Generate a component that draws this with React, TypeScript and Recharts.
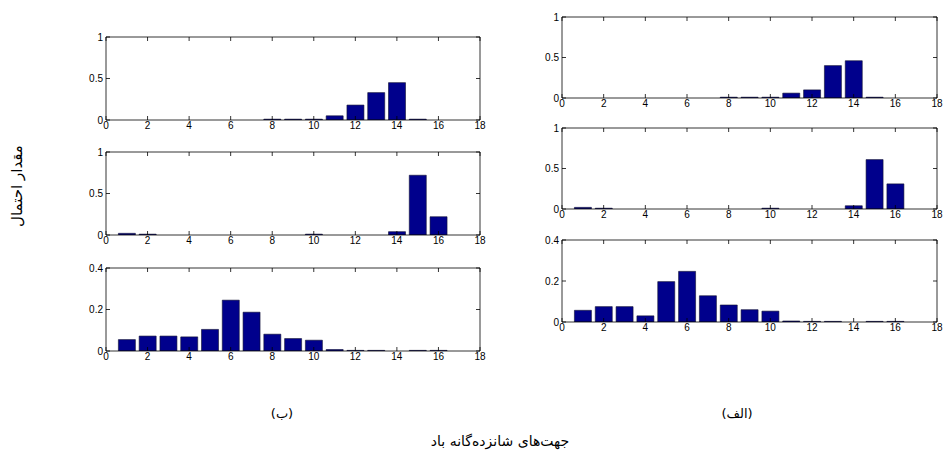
import { Bar, BarChart, XAxis, YAxis } from 'recharts';

// 16 wind directions
const DIRS = [1, 2, 3, 4, 5, 6, 7, 8, 9, 10, 11, 12, 13, 14, 15, 16];
const X_TICKS = [0, 2, 4, 6, 8, 10, 12, 14, 16, 18];
const Y_TICKS_1 = [0, 0.5, 1];
const Y_TICKS_04 = [0, 0.2, 0.4];

// column (ب)
const B1 = [0, 0, 0, 0, 0, 0, 0, 0.01, 0.01, 0.01, 0.05, 0.18, 0.33, 0.45, 0.01, 0];
const B2 = [0.02, 0.01, 0, 0, 0, 0, 0, 0, 0, 0.01, 0, 0, 0, 0.04, 0.72, 0.22];
const B3 = [0.055, 0.072, 0.072, 0.068, 0.104, 0.245, 0.187, 0.081, 0.06, 0.052, 0.007, 0.003, 0.003, 0, 0.003, 0.003];

// column (الف)
const A1 = [0, 0, 0, 0, 0, 0, 0, 0.01, 0.01, 0.01, 0.06, 0.1, 0.4, 0.46, 0.01, 0];
const A2 = [0.02, 0.01, 0, 0, 0, 0, 0, 0, 0, 0.01, 0, 0, 0, 0.04, 0.61, 0.31];
const A3 = [0.057, 0.075, 0.075, 0.03, 0.197, 0.247, 0.128, 0.083, 0.06, 0.053, 0.005, 0.003, 0.003, 0, 0.003, 0.003];

const TEXT = {
  yTitle: 'مقدار احتمال',
  xTitle: 'جهت‌های شانزده‌گانه باد',
  left: '(ب)',
  right: '(الف)',
};

const NUM_FONT = 'Liberation Sans, Arial, sans-serif';
const FA_FONT = 'DejaVu Sans, sans-serif';
const BAR_FILL = '#00008c';

const toRows = (values: number[]) => DIRS.map((d, i) => ({ dir: d, p: values[i] }));

const BottomTick = (props: any) => {
  const { x, y, payload } = props;
  return (
    <g>
      <line x1={x} x2={x} y1={y} y2={y - 4} stroke="#000" strokeWidth={0.8} />
      <text x={x} y={y + 9} textAnchor="middle" fontSize={10} fontFamily={NUM_FONT} fill="#000">
        {payload.value}
      </text>
    </g>
  );
};

const TopTick = (props: any) => {
  const { x, y } = props;
  return <line x1={x} x2={x} y1={y} y2={y + 4} stroke="#000" strokeWidth={0.8} />;
};

const LeftTick = (props: any) => {
  const { x, y, payload } = props;
  return (
    <g>
      <line x1={x} x2={x + 4} y1={y} y2={y} stroke="#000" strokeWidth={0.8} />
      <text x={x - 3} y={y + 3.5} textAnchor="end" fontSize={10} fontFamily={NUM_FONT} fill="#000">
        {payload.value}
      </text>
    </g>
  );
};

const RightTick = (props: any) => {
  const { x, y } = props;
  return <line x1={x} x2={x - 4} y1={y} y2={y} stroke="#000" strokeWidth={0.8} />;
};

interface PanelProps {
  values: number[];
  yMax: number;
  yTicks: number[];
  plotLeft: number;
  plotTop: number;
  plotW: number;
  plotH: number;
}

function Panel({ values, yMax, yTicks, plotLeft, plotTop, plotW, plotH }: PanelProps) {
  const width = 24 + plotW + 7;
  const height = 6 + plotH + 14;
  return (
    <div style={{ position: 'absolute', left: plotLeft - 24, top: plotTop - 6 }}>
      <BarChart width={width} height={height} data={toRows(values)} margin={{ top: 5, right: 6, bottom: 0, left: 0 }}>
        <XAxis
          dataKey="dir"
          type="number"
          domain={[0, 18]}
          ticks={X_TICKS}
          interval={0}
          allowDataOverflow
          height={14}
          tickSize={0}
          tickMargin={0}
          tickLine={false}
          axisLine={{ stroke: '#000', strokeWidth: 0.8 }}
          tick={<BottomTick />}
        />
        <XAxis
          xAxisId="top"
          orientation="top"
          dataKey="dir"
          type="number"
          domain={[0, 18]}
          ticks={X_TICKS}
          interval={0}
          allowDataOverflow
          height={1}
          tickSize={0}
          tickMargin={0}
          tickLine={false}
          axisLine={{ stroke: '#000', strokeWidth: 0.8 }}
          tick={<TopTick />}
        />
        <YAxis
          type="number"
          domain={[0, yMax]}
          ticks={yTicks}
          interval={0}
          allowDataOverflow
          width={24}
          tickSize={0}
          tickMargin={0}
          tickLine={false}
          axisLine={{ stroke: '#000', strokeWidth: 0.8 }}
          tick={<LeftTick />}
        />
        <YAxis
          yAxisId="right"
          orientation="right"
          type="number"
          domain={[0, yMax]}
          ticks={yTicks}
          interval={0}
          allowDataOverflow
          width={1}
          tickSize={0}
          tickMargin={0}
          tickLine={false}
          axisLine={{ stroke: '#000', strokeWidth: 0.8 }}
          tick={<RightTick />}
        />
        <Bar dataKey="p" fill={BAR_FILL} stroke="#101030" strokeWidth={0.6} barSize={17} isAnimationActive={false} />
      </BarChart>
    </div>
  );
}

export default function App() {
  return (
    <div style={{ position: 'absolute', left: 0, top: 0, width: 943, height: 456, background: '#fff', overflow: 'hidden' }}>
      <Panel values={B1} yMax={1} yTicks={Y_TICKS_1} plotLeft={106} plotTop={37} plotW={374} plotH={83} />
      <Panel values={B2} yMax={1} yTicks={Y_TICKS_1} plotLeft={106} plotTop={152} plotW={374} plotH={83} />
      <Panel values={B3} yMax={0.4} yTicks={Y_TICKS_04} plotLeft={106} plotTop={268} plotW={374} plotH={83} />

      <Panel values={A1} yMax={1} yTicks={Y_TICKS_1} plotLeft={562} plotTop={17} plotW={375} plotH={81} />
      <Panel values={A2} yMax={1} yTicks={Y_TICKS_1} plotLeft={562} plotTop={128} plotW={375} plotH={81} />
      <Panel values={A3} yMax={0.4} yTicks={Y_TICKS_04} plotLeft={562} plotTop={240} plotW={375} plotH={82} />

      <div
        style={{
          position: 'absolute',
          left: 17,
          top: 186,
          transform: 'translate(-50%, -50%) rotate(-90deg)',
          fontFamily: FA_FONT,
          fontSize: 15,
          whiteSpace: 'nowrap',
          direction: 'rtl',
        }}
      >
        {TEXT.yTitle}
      </div>
      <div style={{ position: 'absolute', left: 282, top: 413, transform: 'translate(-50%, -50%)', fontFamily: FA_FONT, fontSize: 13, direction: 'rtl', whiteSpace: 'nowrap' }}>
        {TEXT.left}
      </div>
      <div style={{ position: 'absolute', left: 737, top: 413, transform: 'translate(-50%, -50%)', fontFamily: FA_FONT, fontSize: 13, direction: 'rtl', whiteSpace: 'nowrap' }}>
        {TEXT.right}
      </div>
      <div style={{ position: 'absolute', left: 500, top: 441, transform: 'translate(-50%, -50%)', fontFamily: FA_FONT, fontSize: 14, direction: 'rtl', whiteSpace: 'nowrap' }}>
        {TEXT.xTitle}
      </div>
    </div>
  );
}
